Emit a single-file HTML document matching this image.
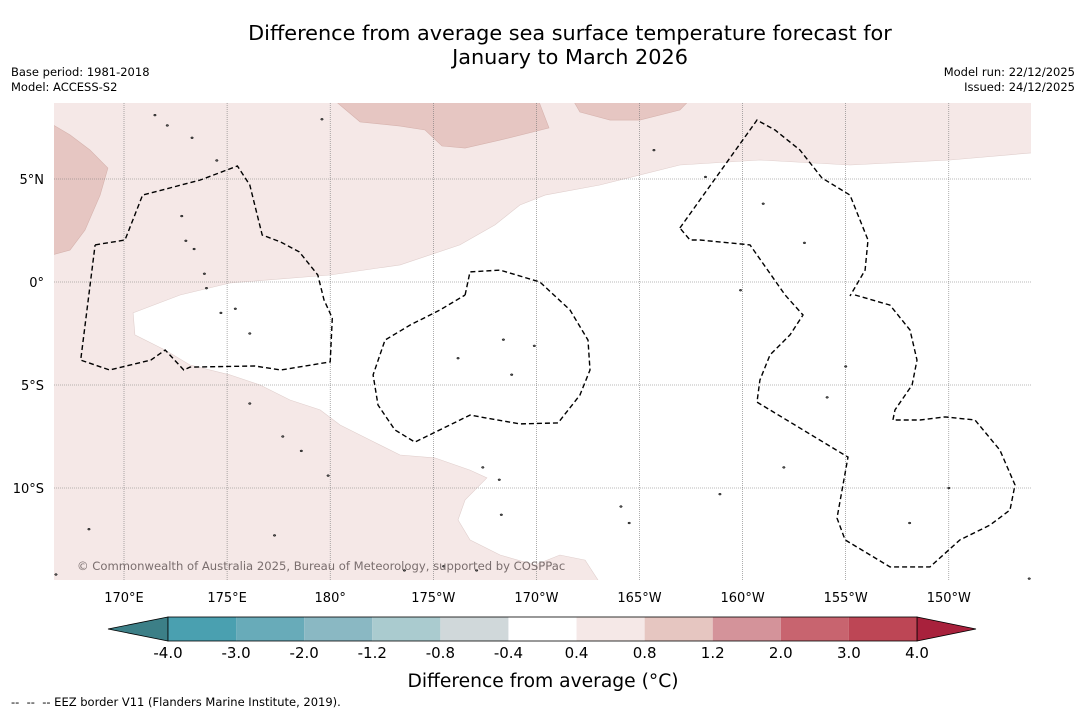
<!DOCTYPE html>
<html><head><meta charset="utf-8">
<style>
body{margin:0;background:#fff;font-family:"DejaVu Sans","Liberation Sans",sans-serif;}
#wrap{position:relative;width:1085px;height:713px;overflow:hidden;background:#fff;}
.t{position:absolute;font-size:11.5px;color:#000;}
</style></head><body>
<div id="wrap">
<div class="t" style="left:120px;width:900px;top:21px;text-align:center;font-size:20.8px;line-height:24px;">Difference from average sea surface temperature forecast for<br>January to March 2026</div>
<div class="t" style="left:11px;top:65px;line-height:15px;">Base period: 1981-2018<br>Model: ACCESS-S2</div>
<div class="t" style="right:10px;top:65px;line-height:15px;text-align:right;">Model run: 22/12/2025<br>Issued: 24/12/2025</div>
<svg id="svg" width="1085" height="713" style="position:absolute;left:0;top:0"></svg>
<div class="t" style="left:11px;top:695px;font-size:11.5px;">-- &nbsp;-- &nbsp;-- EEZ border V11 (Flanders Marine Institute, 2019).</div>
</div>
<script>
const lonTicks=[170,175,180,185,190,195,200,205,210];
const lonLabels=["170°E","175°E","180°","175°W","170°W","165°W","160°W","155°W","150°W"];
const latTicks=[5,0,-5,-10];
const latLabels=["5°N","0°","5°S","10°S"];
const cbBounds=["-4.0","-3.0","-2.0","-1.2","-0.8","-0.4","0.4","0.8","1.2","2.0","3.0","4.0"];
const cbColors=["#4aa0b0","#68abb9","#8ab8c3","#aacbcf","#d0d8da","#ffffff","#f5e8e7","#e6c6c1","#d4939a","#c8646f","#bd4655"];
const cbLow="#3c7f87", cbHigh="#a8213c";
const lightPink="#f5e8e7", darkPink="#e6c6c2";
const whiteRegion=[[170.44,-1.5],[172.72,-0.63],[175.14,-0.05],[179.99,0.34],[183.39,0.83],[186.29,1.8],[187.99,2.77],[189.2,3.74],[190.42,4.22],[193.08,4.71],[196.96,5.68],[200.84,5.92],[205.21,5.68],[210.06,5.92],[214.5,6.31],[214.5,-15],[193.33,-15],[192.36,-13.5],[191.14,-13.25],[189.93,-13.74],[188.24,-13.25],[186.78,-12.52],[186.2,-11.55],[186.54,-10.58],[187.6,-9.51],[186.78,-9.13],[185.08,-8.54],[183.39,-8.4],[181.93,-7.67],[180.48,-6.94],[179.51,-6.21],[178.05,-5.73],[176.6,-5],[175.14,-4.51],[173.2,-4.03],[171.99,-3.3],[170.53,-2.57]];
const darkLeft=[[166,7.96],[167.38,7.14],[168.35,6.41],[169.22,5.53],[168.84,4.22],[168.11,2.52],[167.38,1.55],[166,1.17]];
const darkTop=[[179.99,9],[181.45,7.77],[183.39,7.57],[184.6,7.38],[185.42,6.6],[186.54,6.5],[188.24,6.89],[190.61,7.48],[190.03,9]];
const darkTopRight=[[191.68,9],[192.11,8.25],[193.57,7.86],[195.02,7.86],[196.96,8.35],[197.59,9]];
const eezGilbert=[[168.6,1.8],[170.05,2.04],[170.9,4.22],[173.7,4.95],[175.5,5.63],[176.1,4.71],[176.7,2.28],[177.6,1.94],[178.5,1.46],[179.4,0.34],[179.7,-0.87],[180.1,-1.75],[180,-3.88],[177.6,-4.27],[176.35,-4.08],[173.2,-4.13],[172.9,-4.27],[172,-3.3],[171.3,-3.79],[169.3,-4.27],[167.9,-3.79],[168.6,1.8]];
const eezPhoenix=[[186.54,-0.63],[186.78,0.49],[188.24,0.58],[190.17,0],[191.63,-1.36],[192.5,-2.82],[192.6,-4.27],[192.11,-5.49],[191.05,-6.84],[189.2,-6.89],[186.78,-6.46],[184.11,-7.77],[183.14,-7.18],[182.32,-5.97],[182.08,-4.51],[182.66,-2.82],[183.87,-2.09],[185.32,-1.36],[186.54,-0.63]];
const eezLine=[[196.96,2.62],[200.7,7.86],[201.57,7.38],[202.78,6.41],[203.85,5.05],[205.21,4.22],[206.08,2.04],[205.94,0.58],[205.21,-0.68]];
const eezLine2=[[205.45,-0.63],[207.15,-1.12],[208.12,-2.33],[208.46,-3.79],[208.22,-5],[207.39,-6.21],[207.29,-6.7],[208.6,-6.7],[209.82,-6.55],[211.27,-6.7],[212.48,-8.16],[213.21,-9.85],[212.97,-11.07],[212,-11.8],[210.54,-12.52],[209.09,-13.83],[207.15,-13.83],[204.97,-12.52],[204.58,-11.46],[205.11,-8.5],[200.7,-5.83],[200.84,-4.76],[201.33,-3.54],[202.3,-2.57],[202.93,-1.6],[202.06,-0.63],[200.36,1.8],[197.93,2.04],[197.45,2.04],[196.96,2.62]];
const islands=[[171.5,8.1],[172.1,7.6],[173.3,7],[174.5,5.9],[172.8,3.2],[173.0,2.0],[173.4,1.6],[173.9,0.4],[174.0,-0.3],[174.7,-1.5],[175.4,-1.3],[176.1,-2.5],[179.6,7.9],[176.1,-5.9],[177.7,-7.5],[178.6,-8.2],[179.9,-9.4],[166.3,-10.4],[166.2,-11.8],[166.7,-14.2],[168.3,-12.0],[177.3,-12.3],[183.6,-14.0],[186.2,-3.7],[188.4,-2.8],[188.8,-4.5],[189.9,-3.1],[187.4,-9.0],[188.2,-9.6],[188.3,-11.3],[194.1,-10.9],[194.5,-11.7],[198.9,-10.3],[201,3.8],[203,1.9],[198.2,5.1],[205,-4.1],[204.1,-5.6],[202,-9.0],[208.1,-11.7],[210.0,-10.0],[213.9,-14.4],[195.7,6.4],[199.9,-0.4],[187.1,-14.0],[185.5,-13.8]];
const W=document.getElementById('svg');const NS="http://www.w3.org/2000/svg";
const FF="DejaVu Sans, Liberation Sans, sans-serif";
const X0=54,X1=1031,Y0=103,Y1=580;
function xs(lon){return 124+(lon-170)*20.62;}
function ys(lat){return 282-lat*20.6;}
function el(t,a,p){const e=document.createElementNS(NS,t);for(const k in a)e.setAttribute(k,a[k]);(p||W).appendChild(e);return e;}
function pts(a){return a.map(p=>xs(p[0]).toFixed(1)+","+ys(p[1]).toFixed(1)).join(" ");}
const defs=el('defs',{});const cp=el('clipPath',{id:'clip'},defs);el('rect',{x:X0,y:Y0,width:X1-X0,height:Y1-Y0},cp);
const g=el('g',{'clip-path':'url(#clip)'});

let r=el('rect',{x:X0,y:Y0,width:X1-X0,height:Y1-Y0,fill:lightPink},g);

let p=el('polygon',{points:pts(whiteRegion),fill:'#fff',stroke:'#e0cfcd','stroke-width':0.6},g);

[[darkLeft,'anomaly-0.8-1.2-west'],[darkTop,'anomaly-0.8-1.2-north'],[darkTopRight,'anomaly-0.8-1.2-northeast']].forEach(d=>{
 const q=el('polygon',{points:pts(d[0]),fill:darkPink,stroke:'#d6b3ae','stroke-width':0.6},g);
 });
lonTicks.forEach((l,i)=>{const ln=el('line',{x1:xs(l),x2:xs(l),y1:Y0,y2:Y1,stroke:'#777','stroke-width':0.6,'stroke-dasharray':'1,1'},g);
 
 const t=el('text',{x:xs(l),y:602,'font-size':13,'text-anchor':'middle','font-family':FF});t.textContent=lonLabels[i];
 });
latTicks.forEach((l,i)=>{const ln=el('line',{x1:X0,x2:X1,y1:ys(l),y2:ys(l),stroke:'#777','stroke-width':0.6,'stroke-dasharray':'1,1'},g);
 
 const t=el('text',{x:44,y:ys(l)+5,'font-size':13,'text-anchor':'end','font-family':FF});t.textContent=latLabels[i];
 });
islands.forEach(s=>{const c=el('ellipse',{cx:xs(s[0]),cy:ys(s[1]),rx:1.3,ry:0.9,fill:'#555',stroke:'#000','stroke-width':0.5},g);
 });
[[eezGilbert,'eez-gilbert'],[eezPhoenix,'eez-phoenix'],[eezLine,'eez-line-north'],[eezLine2,'eez-line-south']].forEach(d=>{
 const q=el('polyline',{points:pts(d[0]),fill:'none',stroke:'#000','stroke-width':1.4,'stroke-dasharray':'5,3'},g);
 });
let cr=el('text',{x:77,y:570,'font-size':11.6,fill:'#7a6e6e','font-family':FF},g);
cr.textContent="© Commonwealth of Australia 2025, Bureau of Meteorology, supported by COSPPac";

const cbX0=168,cbX1=917,cbY=617,cbH=24,n=cbColors.length,bw=(cbX1-cbX0)/n;
function cx(i){return cbX0+i*bw;}
let tl=el('polygon',{points:`108,${cbY+cbH/2} ${cbX0},${cbY} ${cbX0},${cbY+cbH}`,fill:cbLow,stroke:'#000','stroke-width':0.8});

let th=el('polygon',{points:`976,${cbY+cbH/2} ${cbX1},${cbY} ${cbX1},${cbY+cbH}`,fill:cbHigh,stroke:'#000','stroke-width':0.8});

cbColors.forEach((c,i)=>{const b=el('rect',{x:cx(i),y:cbY,width:bw,height:cbH,fill:c});
 });
el('rect',{x:cbX0,y:cbY,width:cbX1-cbX0,height:cbH,fill:'none',stroke:'#000','stroke-width':0.8});
cbBounds.forEach((v,i)=>{const t=el('text',{x:cx(i),y:658,'font-size':15,'text-anchor':'middle','font-family':FF});t.textContent=v;
 });
let ct=el('text',{x:543,y:687,'font-size':18.7,'text-anchor':'middle','font-family':FF});ct.textContent="Difference from average (°C)";

</script>
</body></html>
